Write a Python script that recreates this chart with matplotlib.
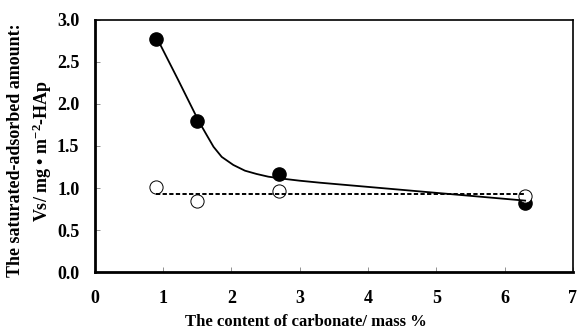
"""Saturated adsorbed amount vs carbonate content."""

import matplotlib

matplotlib.use("Agg")

import matplotlib.pyplot as plt

plt.rcParams["font.family"] = ["Liberation Serif", "DejaVu Serif"]
plt.rcParams["font.weight"] = "bold"
plt.rcParams["mathtext.fontset"] = "custom"
plt.rcParams["mathtext.rm"] = "Liberation Serif:bold"
plt.rcParams["mathtext.bf"] = "Liberation Serif:bold"
plt.rcParams["mathtext.default"] = "rm"

# measured points
carbonate = [0.9, 1.5, 2.7, 6.3]
filled_vs = [2.77, 1.80, 1.17, 0.82]
open_vs = [1.01, 0.84, 0.97, 0.90]

# guide lines
curve_x = [0.92, 1.22, 1.52, 1.64, 1.74, 1.86, 2.03, 2.20, 2.37, 2.54, 2.71, 3.00, 3.30, 6.3]
curve_y = [2.77, 2.29, 1.80, 1.63, 1.49, 1.37, 1.274, 1.206, 1.167, 1.135, 1.115, 1.087,
           1.063, 0.85]
dash_x = [0.9, 6.3]
dash_y = [0.925, 0.925]

xticks = [0, 1, 2, 3, 4, 5, 6, 7]
yticks = [0.0, 0.5, 1.0, 1.5, 2.0, 2.5, 3.0]

fig = plt.figure(figsize=(5.77, 3.31), dpi=100)
ax = fig.add_axes([0.164, 0.178, 0.829, 0.762])

# markers first, guide lines drawn over them (as in the original)
ax.plot(carbonate, filled_vs, linestyle="none", marker="o", markersize=9.5,
        markerfacecolor="black", markeredgecolor="black", zorder=2)
ax.plot(carbonate, open_vs, linestyle="none", marker="o", markersize=9.5,
        markerfacecolor="white", markeredgecolor="black", markeredgewidth=0.7, zorder=3)
ax.plot(curve_x, curve_y, color="black", linewidth=1.3, zorder=4)
ax.plot(dash_x, dash_y, color="black", linewidth=1.4, linestyle=(0, (2.2, 1.2)), zorder=4)

ax.set_xlim(0, 7)
ax.set_ylim(0, 3.0)
ax.set_xticks(xticks, [str(t) for t in xticks], fontweight="bold", fontsize=13)
ax.set_yticks(yticks, [f"{t:.1f}" for t in yticks], fontweight="bold", fontsize=13)
ax.tick_params(direction="in", length=3.5, width=0.6, color="#808080")
ax.tick_params(axis="x", pad=13)
ax.tick_params(axis="y", pad=11)

for side in ("left", "bottom"):
    ax.spines[side].set_linewidth(2.0)
for side in ("top", "right"):
    ax.spines[side].set_linewidth(1.2)

fig.text(0.026, 0.545, "The saturated-adsorbed amount:", rotation=90,
         ha="center", va="center", fontsize=13, fontweight="bold")
fig.text(0.073, 0.545, r"Vs/ mg • m$^{-2}$-HAp", rotation=90,
         ha="center", va="center", fontsize=13, fontweight="bold")
fig.text(0.53, 0.027, "The content of carbonate/ mass %",
         ha="center", va="center", fontsize=12, fontweight="bold")

fig.savefig("out.png", dpi=100)
plt.close(fig)
